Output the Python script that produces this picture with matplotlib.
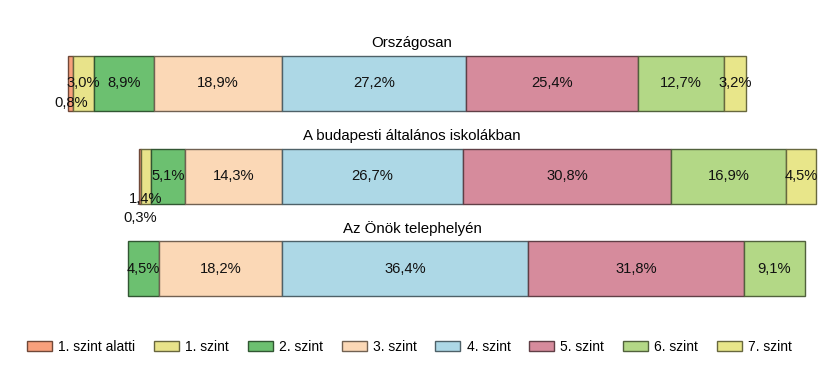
import matplotlib
matplotlib.use("Agg")
import matplotlib.pyplot as plt
import matplotlib.colors as mcolors
from matplotlib.patches import Patch
import numpy as np

plt.rcParams['font.family'] = ['Liberation Sans', 'DejaVu Sans']

groups = ["Országosan", "A budapesti általános iskolákban", "Az Önök telephelyén"]
levels = ["1. szint alatti", "1. szint", "2. szint", "3. szint",
          "4. szint", "5. szint", "6. szint", "7. szint"]
colors = ["#F8A07C", "#E8E38A", "#6CC070", "#FBD8B6",
          "#ADD8E6", "#D68B9C", "#B3D886", "#E8E68A"]

vals_orszagos = [0.8, 3.0, 8.9, 18.9, 27.2, 25.4, 12.7, 3.2]
vals_budapest = [0.3, 1.4, 5.1, 14.3, 26.7, 30.8, 16.9, 4.5]
vals_telephely = [0.0, 0.0, 4.5, 18.2, 36.4, 31.8, 9.1, 0.0]
data = [vals_orszagos, vals_budapest, vals_telephely]

# label vertical offsets (in bar units) for tiny segments
label_dy = {(0, 0): 0.21, (1, 0): 0.45, (1, 1): 0.24}

fig = plt.figure(figsize=(8.31, 3.65), dpi=100)
ax = fig.add_axes([0, 0, 1, 1])
ax.set_xlim(-41.65, 81.1)
ax.set_ylim(3.035, -0.9)
ax.axis('off')

bar_h = 0.593

def darker(c, f=0.45):
    r, g, b = mcolors.to_rgb(c)
    return (r * f, g * f, b * f)

for gi, vals in enumerate(data):
    vals = np.array(vals)
    left = -vals[:4].sum()
    for li, v in enumerate(vals):
        if v > 0:
            ax.barh(gi, v, left=left, height=bar_h, color=colors[li],
                    edgecolor=darker(colors[li]), linewidth=1.0)
            dy = label_dy.get((gi, li), 0.0)
            ax.text(left + v / 2, gi + dy, f"{v:.1f}%".replace('.', ','),
                    ha='center', va='center', fontsize=10.6, color='#111111')
        left += v
    fig.text(412 / 831, 1 - (gi * 92.75 + 83.5 - 40) / 365, groups[gi],
             ha='center', va='center', fontsize=10.8)

handles = [Patch(facecolor=colors[i], edgecolor=darker(colors[i]), linewidth=1.0)
           for i in range(len(levels))]
fig.legend(handles, levels, loc='center', bbox_to_anchor=(409.5 / 831, 1 - 347 / 365),
           ncol=8, frameon=False, fontsize=10, handlelength=1.8, handleheight=0.8,
           handletextpad=0.45, columnspacing=1.34)

fig.savefig("out.png", dpi=100)
